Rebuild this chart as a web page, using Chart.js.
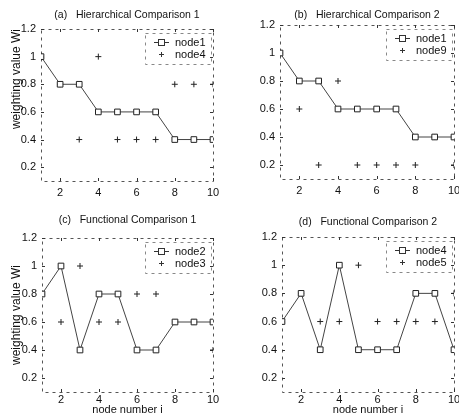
<!DOCTYPE html>
<html>
<head>
<meta charset="utf-8">
<script src="https://cdn.jsdelivr.net/npm/chart.js@4/dist/chart.umd.min.js"></script>
<style>
body { margin: 0; background: #fff; }
#wrap { position: relative; width: 459px; height: 415px; overflow: hidden; }
canvas { position: absolute; }
</style>
</head>
<body>
<div id="wrap">
  <canvas id="chartA" width="229" height="205" style="left:0;top:0"></canvas>
  <canvas id="chartB" width="230" height="205" style="left:229px;top:0"></canvas>
  <canvas id="chartC" width="229" height="210" style="left:0;top:205px"></canvas>
  <canvas id="chartD" width="230" height="210" style="left:229px;top:205px"></canvas>
</div>
<script>
// node number i
var nodeNumbers = [1, 2, 3, 4, 5, 6, 7, 8, 9, 10];
var xTicks = [2, 4, 6, 8, 10];
var yTicks = [0.2, 0.4, 0.6, 0.8, 1, 1.2];

// weighting values Wi
var hierNode1 = [1, 0.8, 0.8, 0.6, 0.6, 0.6, 0.6, 0.4, 0.4, 0.4];
var hierNode4 = [1, 0.8, 0.4, 1, 0.4, 0.4, 0.4, 0.8, 0.8, 0.8];
var hierNode9 = [1, 0.6, 0.2, 0.8, 0.2, 0.2, 0.2, 0.2, 0.4, 0.2];
var funcNode2 = [0.8, 1, 0.4, 0.8, 0.8, 0.4, 0.4, 0.6, 0.6, 0.6];
var funcNode3 = [0.8, 0.6, 1, 0.6, 0.6, 0.8, 0.8, 0.6, 0.6, 0.4];
var funcNode4 = [0.6, 0.8, 0.4, 1, 0.4, 0.4, 0.4, 0.8, 0.8, 0.4];
var funcNode5 = [0.6, 0.8, 0.6, 0.6, 1, 0.6, 0.6, 0.6, 0.6, 0.8];

var FONT = '"Liberation Sans", Arial, sans-serif';

function toPoints(vals) {
    return nodeNumbers.map(function (n, i) { return { x: n, y: vals[i] }; });
}

// dashed box + inward ticks (matlab look)
var boxPlugin = {
    id: 'box',
    beforeDatasetsDraw: function (chart) {
        var a = chart.chartArea, ctx = chart.ctx;
        var sx = chart.scales.x, sy = chart.scales.y;
        ctx.save();
        ctx.strokeStyle = '#555';
        ctx.lineWidth = 1;
        ctx.setLineDash([3, 4]);
        ctx.strokeRect(Math.round(a.left) + 0.5, Math.round(a.top) + 0.5,
            Math.round(a.right - a.left), Math.round(a.bottom - a.top));
        ctx.setLineDash([]);
        ctx.strokeStyle = '#333';
        ctx.beginPath();
        sx.ticks.forEach(function (t) {
            var px = Math.round(sx.getPixelForValue(t.value)) + 0.5;
            ctx.moveTo(px, a.bottom); ctx.lineTo(px, a.bottom - 3);
            ctx.moveTo(px, a.top); ctx.lineTo(px, a.top + 3);
        });
        sy.ticks.forEach(function (t) {
            var py = Math.round(sy.getPixelForValue(t.value)) + 0.5;
            ctx.moveTo(a.left, py); ctx.lineTo(a.left + 3, py);
            ctx.moveTo(a.right, py); ctx.lineTo(a.right - 3, py);
        });
        ctx.stroke();
        ctx.restore();
    }
};

var legendPlugin = {
    id: 'boxLegend',
    afterDatasetsDraw: function (chart) {
        var a = chart.chartArea, ctx = chart.ctx;
        var l = Math.round(a.right) - 68, t = Math.round(a.top) + 4;
        ctx.save();
        ctx.strokeStyle = '#888';
        ctx.lineWidth = 1;
        ctx.setLineDash([3, 4]);
        ctx.strokeRect(l + 0.5, t + 0.5, 66, 31);
        ctx.setLineDash([]);
        ctx.font = '11px ' + FONT;
        ctx.textBaseline = 'middle';
        chart.data.datasets.forEach(function (ds, i) {
            var cy = t + 9.5 + i * 12, cx = l + 16.5;
            ctx.strokeStyle = '#333';
            ctx.beginPath();
            if (ds.showLine) {
                ctx.moveTo(l + 9, cy); ctx.lineTo(l + 24, cy);
                ctx.stroke();
                ctx.fillStyle = '#fff';
                ctx.fillRect(cx - 3, cy - 3, 6, 6);
                ctx.strokeRect(cx - 3, cy - 3, 6, 6);
            } else {
                ctx.moveTo(cx - 2.5, cy); ctx.lineTo(cx + 2.5, cy);
                ctx.moveTo(cx, cy - 2.5); ctx.lineTo(cx, cy + 2.5);
                ctx.stroke();
            }
            ctx.fillStyle = '#111';
            ctx.fillText(ds.label, l + 30, cy);
        });
        ctx.restore();
    }
};

function makeChart(id, title, lineVals, plusVals, lineLabel, plusLabel, o) {
    return new Chart(document.getElementById(id), {
        type: 'line',
        data: {
            datasets: [
                {
                    label: lineLabel,
                    data: toPoints(lineVals),
                    showLine: true,
                    borderColor: '#444',
                    borderWidth: 1,
                    pointStyle: 'rect',
                    pointRadius: 4,
                    pointBackgroundColor: '#fff',
                    pointBorderColor: '#222',
                    pointBorderWidth: 1
                },
                {
                    label: plusLabel,
                    data: toPoints(plusVals),
                    showLine: false,
                    borderColor: '#222',
                    pointStyle: 'cross',
                    pointRadius: 3,
                    pointBorderColor: '#222',
                    pointBorderWidth: 1
                }
            ]
        },
        options: {
            responsive: false,
            animation: false,
            layout: { padding: { top: 0, left: 0, right: o.right, bottom: 0 } },
            plugins: {
                legend: { display: false },
                tooltip: { enabled: false },
                title: {
                    display: true,
                    fullSize: false,
                    text: title,
                    color: '#111',
                    font: { family: FONT, size: 10.5, weight: 'normal', lineHeight: 1.2 },
                    padding: { top: o.titleTop, bottom: o.top - o.titleTop - 12.6 }
                }
            },
            scales: {
                x: {
                    type: 'linear',
                    min: 1,
                    max: 10,
                    grid: { display: false, drawTicks: false },
                    border: { display: false },
                    afterBuildTicks: function (s) { s.ticks = xTicks.map(function (v) { return { value: v }; }); },
                    afterFit: function (s) { s.height = o.bottom; s.paddingLeft = 0; s.paddingRight = 0; },
                    ticks: { color: '#111', padding: o.xpad, maxRotation: 0, font: { family: FONT, size: 11 } },
                    title: {
                        display: !!o.xTitle,
                        text: o.xTitle,
                        color: '#111',
                        padding: 0,
                        font: { family: FONT, size: 11, lineHeight: 1 }
                    }
                },
                y: {
                    min: 0.1,
                    max: 1.2,
                    grid: { display: false, drawTicks: false },
                    border: { display: false },
                    afterBuildTicks: function (s) { s.ticks = yTicks.map(function (v) { return { value: v }; }); },
                    afterFit: function (s) { s.width = o.left; s.paddingTop = 0; s.paddingBottom = 0; },
                    ticks: {
                        color: '#111',
                        padding: 5,
                        font: { family: FONT, size: 11 },
                        callback: function (v) { return String(+v.toFixed(1)); }
                    },
                    title: {
                        display: !!o.yTitle,
                        text: o.yTitle,
                        align: o.yAlign || 'center',
                        color: '#111',
                        padding: { top: 9, bottom: 0 },
                        font: { family: FONT, size: 12, lineHeight: 1.2 }
                    }
                }
            }
        },
        plugins: [boxPlugin, legendPlugin]
    });
}

makeChart('chartA', '(a)   Hierarchical Comparison 1', hierNode1, hierNode4, 'node1', 'node4',
    { left: 41, right: 16, top: 29, titleTop: 9, bottom: 24, xpad: 5, yTitle: 'weighting value Wi', yAlign: 'end' });
makeChart('chartB', '(b)   Hierarchical Comparison 2', hierNode1, hierNode9, 'node1', 'node9',
    { left: 51, right: 5, top: 25, titleTop: 9, bottom: 26, xpad: 5 });
makeChart('chartC', '(c)   Functional Comparison 1', funcNode2, funcNode3, 'node2', 'node3',
    { left: 42, right: 16, top: 33, titleTop: 9, bottom: 23, xpad: 1, yTitle: 'weighting value Wi', xTitle: 'node number i' });
makeChart('chartD', '(d)   Functional Comparison 2', funcNode4, funcNode5, 'node4', 'node5',
    { left: 53, right: 5, top: 32, titleTop: 11, bottom: 23, xpad: 1, xTitle: 'node number i' });
</script>
</body>
</html>
